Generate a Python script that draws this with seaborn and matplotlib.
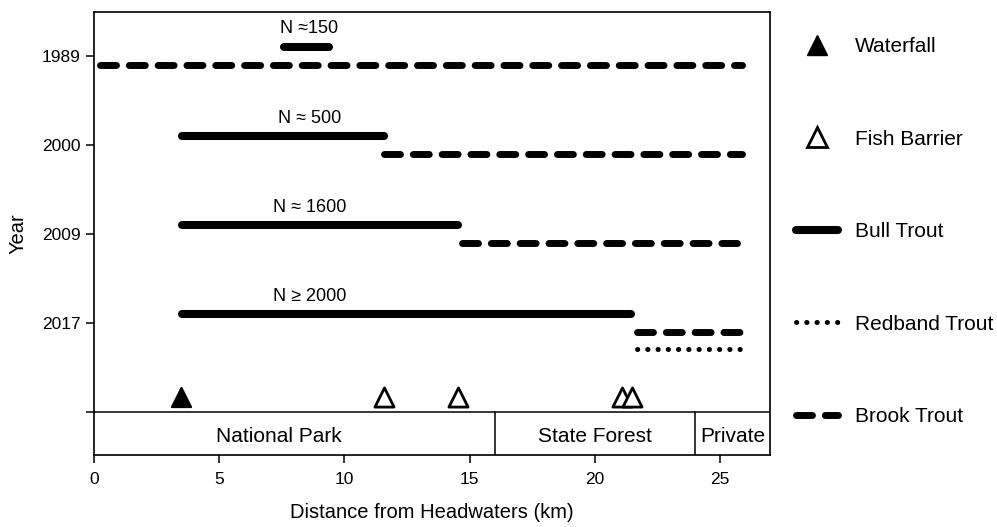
import matplotlib
matplotlib.use("Agg")
import matplotlib.pyplot as plt
from matplotlib.lines import Line2D
import seaborn as sns

# survey years, top to bottom
years = ["1989", "2000", "2009", "2017"]
n_labels = ["N \u2248150", "N \u2248 500", "N \u2248 1600", "N \u2265 2000"]

# occupied stream reach (km from headwaters)
bull_start = [7.6, 3.5, 3.5, 3.5]
bull_end = [9.4, 11.6, 14.55, 21.45]
brook_start = [0.25, 11.6, 14.7, 21.7]
brook_end = [25.9, 25.9, 25.7, 25.8]
redband_year = "2017"
redband_start = 21.7
redband_end = 25.85

# barriers along the stream
waterfall_km = [3.47]
barrier_km = [11.6, 14.55, 21.1, 21.5]

# land ownership along the stream
owners = ["National Park", "State Forest", "Private"]
owner_bounds = [0, 16, 24, 27]
owner_label_x = [7.4, 20.0, 25.5]

sns.set_theme(style="ticks")
plt.rcParams["font.family"] = ["Liberation Sans", "DejaVu Sans"]
plt.rcParams["text.color"] = "black"
plt.rcParams["axes.labelcolor"] = "black"

fig = plt.figure(figsize=(9.97, 5.27), dpi=100)
ax = fig.add_axes([0.0943, 0.1366, 0.678, 0.8406])

year_pos = {yr: 4 - i for i, yr in enumerate(years)}
dash_brook = (2.3, 1.85)
dot_red = (0.05, 2.0)

for i, yr in enumerate(years):
    y = year_pos[yr]
    sns.lineplot(x=[bull_start[i], bull_end[i]], y=[y + 0.1, y + 0.1],
                 color="black", linewidth=5.8, solid_capstyle="round",
                 estimator=None, sort=False, ax=ax)
    sns.lineplot(x=[brook_start[i], brook_end[i]], y=[y - 0.1, y - 0.1],
                 color="black", linewidth=5.0, linestyle=(0, dash_brook),
                 dash_capstyle="round", estimator=None, sort=False, ax=ax)
    ax.text(8.6, y + 0.3, n_labels[i], ha="center", va="center",
            fontsize=13)

y = year_pos[redband_year]
sns.lineplot(x=[redband_start, redband_end], y=[y - 0.29, y - 0.29],
             color="black", linewidth=3.6, linestyle=(0, dot_red),
             dash_capstyle="round", estimator=None, sort=False, ax=ax)

sns.scatterplot(x=waterfall_km, y=[0.17] * len(waterfall_km), marker="^",
                s=190, color="black", edgecolor="black", linewidth=1.5, ax=ax)
sns.scatterplot(x=barrier_km, y=[0.17] * len(barrier_km), marker="^",
                s=190, facecolor="white", edgecolor="black", linewidth=2, ax=ax)

# ownership band
ax.axhline(0, color="black", linewidth=1.1)
for b in owner_bounds[1:-1]:
    ax.plot([b, b], [-0.6, 0], color="black", linewidth=1.1)
for name, lx in zip(owners, owner_label_x):
    ax.text(lx, -0.27, name, ha="center", va="center", fontsize=15)

ax.set_xlim(0, 27)
ax.set_ylim(-0.48, 4.49)
ax.set_xticks([0, 5, 10, 15, 20, 25])
ax.set_yticks([4, 3, 2, 1, 0])
ax.set_yticklabels(years + [""])
ax.tick_params(axis="both", direction="out", length=6, width=1.1,
               labelsize=12.5, color="black", labelcolor="black")
ax.tick_params(axis="x", pad=6)
for sp in ax.spines.values():
    sp.set_visible(True)
    sp.set_color("black")
    sp.set_linewidth(1.2)

ax.set_xlabel("Distance from Headwaters (km)", fontsize=14.5, labelpad=12)
ax.set_ylabel("Year", fontsize=14.5, labelpad=10)

handles = [
    Line2D([], [], linestyle="none", marker="^", markersize=14,
           color="black"),
    Line2D([], [], linestyle="none", marker="^", markersize=14,
           markerfacecolor="white", markeredgecolor="black",
           markeredgewidth=2),
    Line2D([], [], color="black", linewidth=5.8, solid_capstyle="round"),
    Line2D([], [], color="black", linewidth=3.6, linestyle=(0, dot_red),
           dash_capstyle="round"),
    Line2D([], [], color="black", linewidth=5.0, linestyle=(0, dash_brook),
           dash_capstyle="round"),
]
labels = ["Waterfall", "Fish Barrier", "Bull Trout", "Redband Trout",
          "Brook Trout"]
fig.legend(handles, labels, loc="upper left",
           bbox_to_anchor=(796 / 997, 1 - 37 / 527), frameon=False,
           fontsize=15, handlelength=2.0, handletextpad=0.85,
           labelspacing=3.53, borderpad=0, borderaxespad=0)

fig.savefig("out.png", dpi=100)
